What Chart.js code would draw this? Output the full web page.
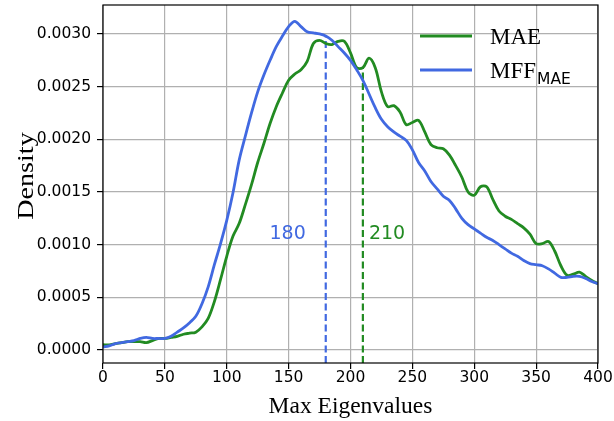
<!DOCTYPE html>
<html>
<head>
<meta charset="utf-8">
<script src="https://cdn.jsdelivr.net/npm/chart.js@4"></script>
<style>
  html, body { margin: 0; padding: 0; background: #fff; }
  #wrap { width: 614px; height: 421px; }
</style>
</head>
<body>
<div id="wrap"><canvas id="densityChart" width="614" height="421"></canvas></div>
<script>
// eigenvalue grid (x), step 5
const eigenValues = [];
for (let v = 0; v <= 400; v += 5) eigenValues.push(v);

const mffDensity = [
  0.00003, 0.00004, 0.00006, 0.00007, 0.00008, 0.00009, 0.00011, 0.00012, 0.00011, 0.00011,
  0.00011, 0.00013, 0.00017, 0.00021, 0.00026, 0.00032, 0.00044, 0.00060, 0.00081, 0.00101,
  0.00123, 0.00149, 0.00180, 0.00203, 0.00225, 0.00245, 0.00261, 0.00275, 0.00288, 0.00298,
  0.00307, 0.00312, 0.00307, 0.00302, 0.00301, 0.00300, 0.00298, 0.00294, 0.00288, 0.00282,
  0.00275, 0.00266, 0.00256, 0.00243, 0.00230, 0.00219, 0.00212, 0.00207, 0.00203, 0.00199,
  0.00190, 0.00178, 0.00170, 0.00160, 0.00153, 0.00146, 0.00142, 0.00134, 0.00125, 0.00119,
  0.00115, 0.00111, 0.00107, 0.00104, 0.00100, 0.00096, 0.00092, 0.00089, 0.00085, 0.00082,
  0.00081, 0.00080, 0.00077, 0.00073, 0.00069, 0.00069, 0.00070, 0.00070, 0.00068, 0.00065,
  0.00063
];

const maeDensity = [
  0.00005, 0.00005, 0.00006, 0.00007, 0.00008, 0.00008, 0.00008, 0.00007, 0.00009, 0.00011,
  0.00011, 0.00012, 0.00013, 0.00015, 0.00016, 0.00017, 0.00022, 0.00030, 0.00046, 0.00067,
  0.00089, 0.00108, 0.00120, 0.00138, 0.00157, 0.00178, 0.00196, 0.00215, 0.00231, 0.00244,
  0.00256, 0.00262, 0.00266, 0.00274, 0.00291, 0.00294, 0.00291, 0.00290, 0.00293, 0.00293,
  0.00282, 0.00268, 0.00268, 0.00277, 0.00268, 0.00245, 0.00231, 0.00232, 0.00226, 0.00214,
  0.00216, 0.00218, 0.00207, 0.00195, 0.00192, 0.00191, 0.00185, 0.00175, 0.00164, 0.00150,
  0.00147, 0.00155, 0.00155, 0.00143, 0.00132, 0.00127, 0.00124, 0.00120, 0.00116, 0.00110,
  0.00101, 0.00101, 0.00103, 0.00094, 0.00080, 0.00071, 0.00072, 0.00074, 0.00070, 0.00066,
  0.00063
];

// vertical markers: [MFF, MAE]
const markerX = [180, 210];
const markerTop = [0.00298, 0.00268];
const markerLabels = ["180", "210"];

const xTicks = [0, 50, 100, 150, 200, 250, 300, 350, 400];
const yTicks = [0, 0.0005, 0.001, 0.0015, 0.002, 0.0025, 0.003];
const Y_MIN = -0.000123;
const Y_MAX = 0.003275;

const GREEN = "#228B22";
const BLUE = "#4169E1";

function toPoints(ys) {
  return eigenValues.map((x, i) => ({ x: x, y: ys[i] }));
}

const extrasPlugin = {
  id: "extras",
  afterDatasetsDraw(chart) {
    const { ctx, chartArea, scales } = chart;
    ctx.save();
    // frame
    ctx.strokeStyle = "#000";
    ctx.lineWidth = 1.2;
    ctx.strokeRect(chartArea.left, chartArea.top, chartArea.right - chartArea.left, chartArea.bottom - chartArea.top);

    // marker labels
    ctx.font = "19px 'DejaVu Sans'";
    ctx.textBaseline = "middle";
    ctx.fillStyle = BLUE;
    ctx.textAlign = "right";
    ctx.fillText(markerLabels[0], scales.x.getPixelForValue(markerX[0]) - 20, scales.y.getPixelForValue(0.0011));
    ctx.fillStyle = GREEN;
    ctx.textAlign = "left";
    ctx.fillText(markerLabels[1], scales.x.getPixelForValue(markerX[1]) + 6, scales.y.getPixelForValue(0.0011));

    // legend
    const lx = 420, lx2 = 472;
    ctx.lineWidth = 3;
    ctx.strokeStyle = GREEN;
    ctx.beginPath(); ctx.moveTo(lx, 36); ctx.lineTo(lx2, 36); ctx.stroke();
    ctx.strokeStyle = BLUE;
    ctx.beginPath(); ctx.moveTo(lx, 70); ctx.lineTo(lx2, 70); ctx.stroke();
    ctx.fillStyle = "#000";
    ctx.textAlign = "left";
    ctx.textBaseline = "alphabetic";
    ctx.font = "23px 'Liberation Serif'";
    ctx.fillText("MAE", 490, 44);
    ctx.fillText("MFF", 490, 78);
    const w = ctx.measureText("MFF").width;
    ctx.font = "15.5px 'DejaVu Sans'";
    ctx.fillText("MAE", 490 + w + 1, 84);

    // axis titles
    ctx.font = "23.5px 'Liberation Serif'";
    ctx.textAlign = "center";
    ctx.fillText("Max Eigenvalues", (chartArea.left + chartArea.right) / 2, 413);
    ctx.translate(27, 176);
    ctx.rotate(-Math.PI / 2);
    ctx.scale(1.17, 1);
    ctx.textBaseline = "middle";
    ctx.font = "24px 'Liberation Serif'";
    ctx.fillText("Density", 0, 0);
    ctx.restore();
  }
};

new Chart(document.getElementById("densityChart"), {
  type: "line",
  data: {
    datasets: [
      {
        label: "MFF_MAE",
        data: toPoints(mffDensity),
        borderColor: BLUE,
        borderWidth: 2.8,
        pointRadius: 0,
        tension: 0.35,
        order: 0
      },
      {
        label: "MAE",
        data: toPoints(maeDensity),
        borderColor: GREEN,
        borderWidth: 2.8,
        pointRadius: 0,
        tension: 0.35,
        order: 1
      },
      {
        label: "mff-marker",
        data: [{ x: markerX[0], y: Y_MIN }, { x: markerX[0], y: markerTop[0] }],
        borderColor: BLUE,
        borderWidth: 2.2,
        borderDash: [7, 3.5],
        pointRadius: 0,
        order: 2
      },
      {
        label: "mae-marker",
        data: [{ x: markerX[1], y: Y_MIN }, { x: markerX[1], y: markerTop[1] }],
        borderColor: GREEN,
        borderWidth: 2.2,
        borderDash: [7, 3.5],
        pointRadius: 0,
        order: 3
      }
    ]
  },
  options: {
    responsive: false,
    animation: false,
    layout: { padding: { left: 0, right: 16, top: 5, bottom: 0 } },
    plugins: {
      legend: { display: false },
      tooltip: { enabled: false }
    },
    scales: {
      x: {
        type: "linear",
        min: 0,
        max: 400,
        afterBuildTicks: (axis) => { axis.ticks = xTicks.map((v) => ({ value: v })); },
        afterFit: (axis) => { axis.height = 58; axis.paddingLeft = 0; axis.paddingRight = 0; },
        border: { display: false },
        grid: { color: "#b0b0b0", lineWidth: 1.2, tickColor: "#000", tickLength: 6 },
        ticks: {
          color: "#000",
          font: { family: "DejaVu Sans", size: 15.5 },
          padding: 0,
          maxRotation: 0,
          callback: (v) => String(v)
        }
      },
      y: {
        min: Y_MIN,
        max: Y_MAX,
        afterBuildTicks: (axis) => { axis.ticks = yTicks.map((v) => ({ value: v })); },
        afterFit: (axis) => { axis.width = 103; axis.paddingTop = 0; axis.paddingBottom = 0; },
        border: { display: false },
        grid: { color: "#b0b0b0", lineWidth: 1.2, tickColor: "#000", tickLength: 6 },
        ticks: {
          color: "#000",
          font: { family: "DejaVu Sans", size: 15.5 },
          padding: 6,
          callback: (v) => Number(v).toFixed(4)
        }
      }
    }
  },
  plugins: [extrasPlugin]
});
</script>
</body>
</html>
